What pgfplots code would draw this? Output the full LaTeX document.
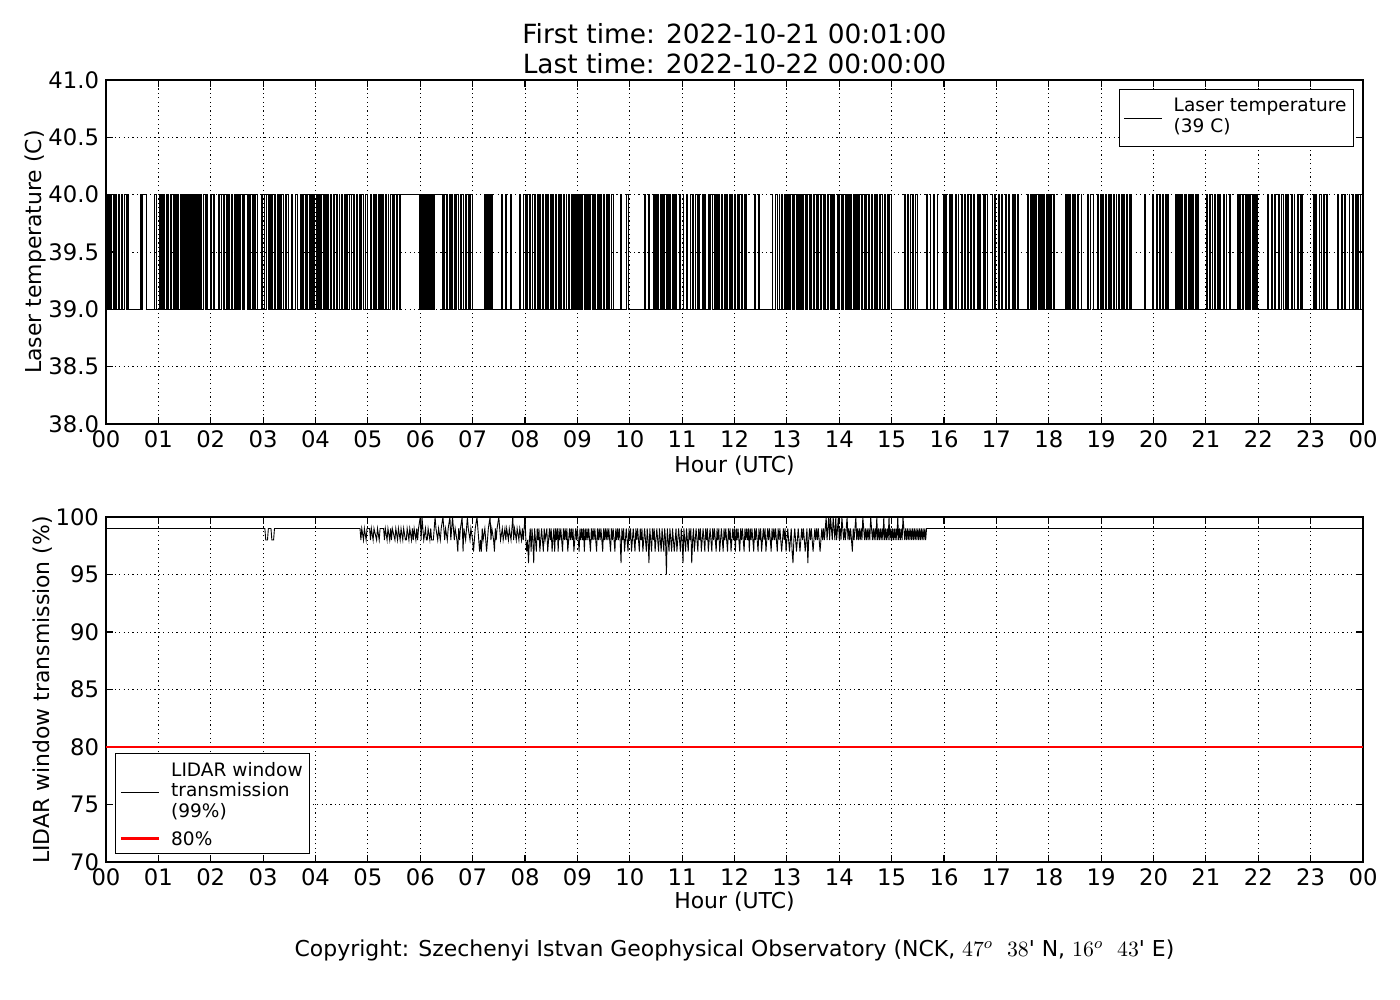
\documentclass[border=0pt]{standalone}
\usepackage{pgfplots}
\pgfplotsset{compat=1.18}
\usepackage{fontspec}
\setmainfont{DejaVu Sans}
\newfontfamily\plainfont{DejaVu Sans}
\begin{document}
\begin{tikzpicture}
\path[use as bounding box] (0bp,0bp) rectangle (700bp,500bp);
\pgfplotsset{
  every axis/.append style={
    scale only axis, width=628.5bp, anchor=south west,
    xmin=0, xmax=1440,
    xtick={0,60,120,180,240,300,360,420,480,540,600,660,720,780,840,900,960,1020,1080,1140,1200,1260,1320,1380,1440},
    xticklabels={00,01,02,03,04,05,06,07,08,09,10,11,12,13,14,15,16,17,18,19,20,21,22,23,00},
    tick align=inside, tick pos=both,
    major tick length=3.5bp,
    tick style={black, line width=0.6bp},
    grid=major,
    major grid style={black, line width=0.4bp, dash pattern=on 0.6bp off 1.6bp},
    axis line style={line width=0.8bp},
    ticklabel style={font=\fontsize{11.4}{13}\selectfont},
    /pgf/number format/assume math mode=true,
    legend cell align=left,
    legend style={draw=black, line width=0.6bp, font=\fontsize{9.3}{10.3}\selectfont,
      inner xsep=2bp, inner ysep=2.5bp, row sep=1bp,
      nodes={inner sep=1.5bp, text depth=},
      /tikz/every odd column/.append style={column sep=4bp}},
    legend image code/.code={\draw[#1] (0bp,0bp) -- (19bp,0bp);},
  }
}
% ---------------- top panel ----------------
\begin{axis}[at={(53bp,288bp)}, height=172bp,
  ymin=38, ymax=41, ytick={38,38.5,39,39.5,40,40.5,41},
  yticklabel style={/pgf/number format/.cd, fixed, fixed zerofill, precision=1},
  legend style={at={(1,1)}, anchor=north east, xshift=-4.5bp, yshift=-4.5bp}]
\addplot[const plot, black, line width=0.45bp] coordinates {
(1,39)(2,40)(3,39)(4,40)(5,39)(6,40)(8,39)(9,40)(10,39)(11,40)(12,39)(14,40)(15,39)
(18,40)(19,39)(21,40)(23,39)(25,40)(26,39)
(39,40)(41,39)(42,40)(46,39)
(55,40)(58,39)
(61,40)(62,39)(63,40)(65,39)(66,40)(67,39)(69,40)(70,39)(71,40)(72,39)(74,40)(75,39)(77,40)(78,39)(79,40)(81,39)(82,40)(83,39)(85,40)(86,39)
(88,40)(89,39)(90,40)(91,39)(92,40)(93,39)(95,40)(96,39)(97,40)(98,39)(99,40)(100,39)(101,40)(102,39)(104,40)(105,39)(106,40)(107,39)(108,40)(109,39)
(112,40)(114,39)(115,40)(116,39)
(120,40)(121,39)(123,40)(124,39)
(129,40)(130,39)(132,40)(134,39)(135,40)(136,39)(138,40)(139,39)(140,40)(141,39)
(144,40)(145,39)(147,40)(148,39)(150,40)(151,39)(152,40)(153,39)(154,40)(156,39)(157,40)(158,39)(159,40)(162,39)(163,40)(164,39)(165,40)(168,39)(169,40)(170,39)(171,40)(173,39)
(178,40)(179,39)(181,40)(182,39)(184,40)(186,39)(187,40)(188,39)(190,40)(191,39)(193,40)(194,39)(196,40)(197,39)(199,40)(200,39)(201,40)(203,39)(205,40)(206,39)
(207,40)(209,39)
(213,40)(214,39)(217,40)(219,39)
(223,40)(224,39)(225,40)(226,39)(228,40)(229,39)(230,40)(231,39)(233,40)(234,39)(235,40)(237,39)(238,40)(239,39)(241,40)(242,39)(243,40)(244,39)(246,40)(247,39)(249,40)(250,39)(251,40)(252,39)
(254,40)(255,39)(257,40)(258,39)(260,40)(262,39)(264,40)(265,39)(267,40)(268,39)(270,40)(271,39)(273,40)(274,39)(276,40)(277,39)(279,40)(281,39)
(284,40)(285,39)(287,40)(288,39)(290,40)(291,39)(293,40)(295,39)(297,40)(299,39)
(303,40)(304,39)(306,40)(307,39)(309,40)(310,39)(312,40)(313,39)(314,40)(315,39)
(317,40)(318,39)(320,40)(321,39)(323,40)(324,39)(326,40)(328,39)(329,40)(330,39)(331,40)(333,39)(334,40)(336,39)(337,40)(359,39)
(360,40)(361,39)(362,40)(363,39)(364,40)(365,39)(366,40)(367,39)(368,40)(369,39)(370,40)(371,39)(372,40)(373,39)(374,40)(375,39)(376,40)(385,39)
(387,40)(388,39)(390,40)(391,39)(393,40)(395,39)(396,40)(397,39)(399,40)(400,39)(402,40)(404,39)(406,40)(407,39)(409,40)(410,39)(412,40)(413,39)(415,40)(416,39)(418,40)(420,39)
(434,40)(435,39)(436,40)(437,39)(438,40)(439,39)(440,40)(441,39)(442,40)(443,39)
(453,40)(454,39)(458,40)(459,39)(463,40)(465,39)
(474,40)(475,39)(478,40)(480,39)
(482,40)(483,39)(485,40)(486,39)(488,40)(489,39)(491,40)(492,39)(494,40)(495,39)(497,40)(498,39)(500,40)(501,39)(503,40)(504,39)(506,40)(507,39)(509,40)(510,39)(512,40)(513,39)(515,40)(516,39)(518,40)(519,39)(521,40)(522,39)(524,40)(525,39)(527,40)(528,39)(530,40)(531,39)(533,40)(534,39)(536,40)(537,39)
(538,40)(539,39)(540,40)(541,39)(542,40)(543,39)(544,40)(545,39)(546,40)(548,39)(549,40)(550,39)(551,40)(552,39)(553,40)(554,39)(555,40)(557,39)(558,40)(559,39)(560,40)(561,39)(563,40)(564,39)(565,40)(566,39)(567,40)(568,39)
(570,40)(571,39)(573,40)(574,39)(576,40)(577,39)(579,40)(581,39)
(589,40)(591,39)(596,40)(598,39)
(617,40)(618,39)(621,40)(623,39)
(627,40)(628,39)(630,40)(631,39)(632,40)(633,39)(635,40)(636,39)(638,40)(639,39)(640,40)(642,39)(643,40)(644,39)(646,40)(647,39)(649,40)(650,39)(651,40)(652,39)(653,40)(654,39)
(657,40)(658,39)(661,40)(662,39)(665,40)(666,39)
(669,40)(670,39)(672,40)(673,39)(675,40)(677,39)(679,40)(680,39)(683,40)(684,39)(686,40)(687,39)(690,40)(691,39)(693,40)(695,39)(697,40)(698,39)(699,40)(700,39)
(702,40)(703,39)(705,40)(706,39)(708,40)(710,39)(711,40)(712,39)(714,40)(715,39)(717,40)(718,39)(720,40)(721,39)(723,40)(724,39)(725,40)(726,39)
(728,40)(729,39)(731,40)(732,39)(733,40)(734,39)
(743,40)(744,39)(747,40)(749,39)
(763,40)(764,39)(767,40)(769,39)
(771,40)(772,39)(774,40)(775,39)(777,40)(778,39)(780,40)(781,39)
(782,40)(783,39)(784,40)(786,39)(787,40)(788,39)(789,40)(791,39)(792,40)(793,39)(794,40)(796,39)(797,40)(798,39)(799,40)(801,39)(802,40)(803,39)(804,40)(806,39)(807,40)(808,39)(810,40)(811,39)(812,40)(814,39)(815,40)(816,39)(818,40)(819,39)(820,40)(822,39)(823,40)(824,39)(826,40)(827,39)(828,40)(830,39)(831,40)(832,39)(833,40)(835,39)
(838,40)(839,39)(840,40)(842,39)(843,40)(844,39)(845,40)(847,39)(848,40)(849,39)(850,40)(852,39)(853,40)(854,39)(856,40)(857,39)(858,40)(860,39)(861,40)(862,39)(863,40)(865,39)(866,40)(867,39)(869,40)(870,39)(871,40)(873,39)(874,40)(875,39)(877,40)(878,39)(880,40)(881,39)(883,40)(884,39)(886,40)(887,39)(889,40)(890,39)(892,40)(893,39)(895,40)(896,39)(898,40)(900,39)
(915,40)(916,39)(918,40)(919,39)(921,40)(922,39)(924,40)(925,39)(927,40)(929,39)
(940,40)(941,39)(944,40)(945,39)(948,40)(949,39)(952,40)(953,39)
(959,40)(960,39)(962,40)(963,39)(966,40)(967,39)(969,40)(970,39)(973,40)(974,39)(976,40)(977,39)(980,40)(981,39)(983,40)(984,39)(987,40)(988,39)(990,40)(991,39)(994,40)(995,39)(998,40)(999,39)(1001,40)(1002,39)(1005,40)(1006,39)(1008,40)(1010,39)
(1015,40)(1016,39)(1018,40)(1019,39)(1022,40)(1023,39)(1026,40)(1027,39)(1030,40)(1031,39)(1034,40)(1035,39)(1038,40)(1039,39)(1041,40)(1042,39)(1044,40)(1045,39)
(1056,40)(1057,39)(1059,40)(1060,39)(1061,40)(1062,39)(1064,40)(1065,39)(1066,40)(1068,39)(1069,40)(1070,39)(1072,40)(1073,39)(1074,40)(1075,39)(1077,40)(1078,39)(1080,40)(1081,39)(1082,40)(1083,39)(1085,40)(1087,39)
(1099,40)(1100,39)(1101,40)(1102,39)(1104,40)(1105,39)(1107,40)(1108,39)(1109,40)(1110,39)
(1113,40)(1114,39)(1117,40)(1118,39)
(1124,40)(1125,39)(1128,40)(1131,39)
(1136,40)(1137,39)(1139,40)(1140,39)(1142,40)(1143,39)(1145,40)(1146,39)(1148,40)(1149,39)(1151,40)(1152,39)(1154,40)(1155,39)(1157,40)(1158,39)
(1160,40)(1161,39)(1163,40)(1164,39)(1166,40)(1167,39)(1169,40)(1170,39)(1172,40)(1173,39)(1174,40)(1175,39)
(1190,40)(1191,39)
(1199,40)(1200,39)(1203,40)(1204,39)(1207,40)(1208,39)(1210,40)(1211,39)(1214,40)(1215,39)(1216,40)(1217,39)
(1225,40)(1226,39)(1227,40)(1228,39)(1230,40)(1231,39)(1232,40)(1233,39)(1235,40)(1236,39)(1237,40)(1238,39)(1240,40)(1241,39)(1242,40)(1243,39)(1245,40)(1246,39)(1248,40)(1249,39)(1250,40)(1251,39)
(1261,40)(1262,39)(1264,40)(1265,39)(1267,40)(1268,39)(1270,40)(1271,39)(1273,40)(1274,39)(1276,40)(1277,39)(1280,40)(1281,39)(1283,40)(1284,39)(1287,40)(1288,39)
(1296,40)(1297,39)(1298,40)(1299,39)(1300,40)(1302,39)(1303,40)(1305,39)(1306,40)(1308,39)(1309,40)(1310,39)(1311,40)(1313,39)(1314,40)(1315,39)(1316,40)(1317,39)(1318,40)(1319,39)
(1331,40)(1332,39)(1335,40)(1336,39)(1339,40)(1340,39)(1343,40)(1344,39)(1347,40)(1349,39)
(1351,40)(1352,39)(1354,40)(1355,39)(1358,40)(1359,39)(1361,40)(1362,39)(1365,40)(1366,39)(1368,40)(1369,39)(1370,40)(1371,39)
(1383,40)(1384,39)(1386,40)(1387,39)(1390,40)(1392,39)(1395,40)(1396,39)(1398,40)(1399,39)
(1411,40)(1412,39)(1415,40)(1416,39)(1419,40)(1420,39)(1424,40)(1425,39)(1428,40)(1429,39)(1431,40)(1432,39)(1434,40)(1435,39)(1437,40)(1439,39)(1440,39)
};
\addlegendentry{\begin{tabular}[c]{@{}l@{}}Laser temperature\\(39 C)\end{tabular}}
\end{axis}
% ---------------- bottom panel ----------------
\begin{axis}[at={(53bp,69bp)}, height=172.5bp,
  ymin=70, ymax=100, ytick={70,75,80,85,90,95,100},
  legend style={at={(0,0)}, anchor=south west, xshift=4.5bp, yshift=4bp}]
\addplot[black, line width=0.45bp] coordinates {
(0,99)(182,99)(183,98)(185,98)(186,99)(189,99)(190,98)(192,98)(193,99)(291,99)
(292,98)(293,99)(295,98)(296,99)(298,98)(299,99)(302,99)(303,98)(304,99)(306,98)(307,99)(310,98)(311,99)(313,98)(314,99)(318,99)(319,98)(320,99)(322,98)(323,99)(325,98)(326,99)(327,98)(328,99)(331,98)(332,99)(334,98)(335,99)(337,98)(338,99)(340,98)(341,99)(343,98)(344,98)(345,99)(347,98)(348,99)(350,98)(351,99)(352,98)(353,99)(355,98)(356,99)(357,98)(358,99)(360,100)(361,98)(362,100)(363,99)(364,98)
(366,99)(367,98)(368,98)(369,99)(371,98)(372,99)(373,98)(375,98)(376,99)(377,100)(378,99)(380,98)(381,99)(383,98)(384,99)(386,100)(387,99)(388,98)(389,99)(391,98)(392,99)(394,100)(395,98)(396,99)(397,100)(398,99)(399,98)(400,99)(402,98)(403,97)(404,99)(405,98)(406,99)(408,100)(409,97)(410,99)
(412,98)(413,99)(414,100)(415,99)(417,98)(418,99)(420,98)(421,97)(422,98)(423,99)(425,100)(426,99)(427,98)(428,97)(429,98)(430,97)(431,99)(432,98)(434,99)(435,98)(436,97)(437,98)(438,99)(440,100)(441,98)(442,99)(444,98)(445,97)(446,99)(447,98)(448,99)(450,100)(451,99)(452,98)(454,99)(455,98)(457,99)(458,98)(459,99)(461,98)(462,99)(464,98)(465,99)(466,100)(467,98)(468,99)(470,98)(471,99)(473,98)(474,99)(476,98)(477,99)(478,98)(480,100)(481,98)(482,97)
(483,98)(484,96)(485,98)(486,99)(487,97)(488,99)(489,98)(490,96)(491,99)(492,98)(493,97)(494,99)(495,98)(496,99)(497,97)(498,98)(499,99)(500,98)(501,97)(502,99)(503,98)(505,99)(506,97)(507,98)(508,99)(509,98)(510,99)(511,97)(512,98)(513,99)(514,97)(515,99)(516,98)(517,99)(518,97)(519,99)(520,98)(521,99)(522,98)(523,97)(524,99)(525,98)(526,99)(527,98)(528,99)(529,97)(530,98)(531,99)(532,98)(533,99)(534,98)(535,99)(536,97)(537,98)(538,99)(539,98)(540,99)(541,98)(542,97)(543,99)(544,98)(545,99)(546,98)(547,99)(548,97)(549,99)(550,98)(551,99)(552,98)(553,99)(554,98)(555,97)(556,99)(557,98)(558,99)(559,98)(560,99)(561,98)(562,97)(563,99)(564,98)(565,99)(566,98)(567,99)(568,98)(569,97)(570,99)(571,98)(572,99)(573,98)(574,99)(575,98)(576,99)(577,98)(578,97)(579,99)(580,98)(581,99)(582,98)(583,97)(584,99)(585,98)(586,99)(587,98)(588,99)(589,98)(590,96)(591,99)(592,98)(593,99)(594,97)(595,98)(596,99)(597,98)(598,97)(599,99)(600,98)(601,99)(602,97)(603,98)(604,99)(605,98)(606,97)(607,99)(608,98)(609,99)(610,98)(611,97)(612,99)(613,98)(614,99)(615,97)(616,98)(617,99)(618,98)(619,97)(620,99)(621,98)(622,96)(623,99)(624,98)(625,97)(626,99)(627,98)(628,99)(629,97)(630,98)(631,99)(632,98)(633,97)(634,99)(635,98)(636,97)(637,99)(638,98)(639,97)(640,99)(641,98)(642,95)(643,99)(644,98)(645,97)(646,99)(647,98)(648,97)(649,99)(650,98)(651,97)(652,98)(653,99)(654,97)(655,98)(656,99)(657,98)(658,97)(659,99)(660,98)(661,96)(662,99)(663,98)(664,97)(665,99)(666,98)(667,97)(668,99)(669,98)(670,99)(671,96)(672,98)(673,99)(674,97)(675,98)(676,99)(677,98)(678,97)(679,99)(680,98)
(681,99)(682,97)(683,98)(684,99)(685,98)(686,97)(687,99)(688,98)(689,99)(690,97)(691,98)(692,99)(693,98)(694,97)(695,99)(696,98)(697,99)(698,98)(699,97)(700,99)(701,98)(702,99)(703,97)(704,98)(705,99)(706,98)(707,97)(708,99)(709,98)(710,99)(711,98)(712,97)(713,99)(714,98)(715,99)(716,97)(717,98)(718,99)(719,98)(720,99)(721,97)(722,99)(723,98)(724,99)(725,98)(726,97)(727,99)(728,98)(729,99)(730,98)(731,97)(732,99)(733,98)(734,99)(735,98)(736,99)(737,97)(738,99)(739,98)(740,99)(741,98)(742,97)(743,99)(744,98)(745,99)(746,98)(747,97)(748,99)(749,98)(750,99)(751,97)(752,98)(753,99)(754,98)(755,99)(756,97)(757,98)(758,99)(759,98)(760,99)(761,98)(762,97)(763,99)(764,98)(765,99)(766,98)(767,99)(768,98)(769,97)(770,99)(771,98)(772,99)(773,98)(774,97)(775,98)(776,99)(777,98)(778,99)(779,97)(780,98)(781,99)(782,98)(783,97)(784,98)(785,99)(786,97)(787,96)(788,98)(789,99)(790,98)(791,97)(792,98)(793,99)(794,98)(795,97)(796,98)(797,99)(798,98)(799,99)(800,98)(801,97)(802,98)(803,99)(804,96)(805,98)(806,99)(807,98)(808,99)(809,98)(810,97)(811,98)(812,99)(813,98)(814,99)(815,98)(816,99)(817,98)(818,97)(819,98)(820,99)(821,98)(822,99)(823,98)(824,99)(825,100)(826,98)
(827,99)(828,100)(829,98)(830,100)(831,99)(832,98)(833,100)(834,99)(835,98)(836,100)(837,98)(838,99)(839,100)(840,98)(841,99)(842,98)(843,100)(844,99)(845,98)(846,99)(847,98)(848,99)(849,100)(850,98)(851,99)(852,98)(853,99)(854,98)(855,97)(856,99)(857,98)(858,99)(859,100)(860,98)(861,99)(862,98)(863,99)(864,98)(865,99)(866,98)(867,100)(868,99)(869,98)(870,99)(871,98)(872,99)(873,98)(874,99)(875,98)(876,100)(877,99)(878,98)(879,99)(880,98)(881,99)(882,98)(883,100)(884,98)(885,99)(886,98)(887,99)(888,98)(889,99)(890,98)(891,100)(892,98)(893,99)(894,98)(895,99)(896,98)(897,100)(898,98)(899,99)(900,98)(901,99)(902,98)(903,99)(904,98)(905,99)(906,98)(907,100)(908,98)(909,99)(910,98)(911,99)(912,98)(913,100)(914,99)(915,98)(916,99)(917,98)(918,99)(919,98)(920,99)(921,98)(922,99)(923,98)(924,99)(925,98)(926,99)(927,98)(928,99)(929,98)(930,99)(931,98)(932,99)(933,98)(934,99)(935,98)(936,99)(937,98)(938,99)(939,98)(940,99)(1440,99)
};
\addlegendentry{\begin{tabular}[c]{@{}l@{}}LIDAR window\\transmission\\(99\%)\end{tabular}}
\addplot[red, line width=1.3bp] coordinates {(0,80)(1440,80)};
\addlegendentry{80\%}
\end{axis}
% ---------------- texts ----------------
\node[font=\fontsize{13.25}{15}\selectfont] at (367.25bp,483bp) {First time: 2022-10-21 00:01:00};
\node[font=\fontsize{13.25}{15}\selectfont] at (367.25bp,468bp) {Last time: 2022-10-22 00:00:00};
\node[font=\fontsize{11}{13}\selectfont, rotate=90] at (17.5bp,374bp) {Laser temperature (C)};
\node[font=\fontsize{11}{13}\selectfont, rotate=90] at (21.5bp,155bp) {LIDAR window transmission (\%)};
\node[font=\fontsize{11}{13}\selectfont] at (367.25bp,267bp) {Hour (UTC)};
\node[font=\fontsize{11}{13}\selectfont] at (367.25bp,49bp) {Hour (UTC)};
\node[font=\fontsize{11}{13}\selectfont] at (367.25bp,25bp) {Copyright: Szechenyi Istvan Geophysical Observatory (NCK, $47^o$\ \ $38${\plainfont '} N, $16^o$\ \ $43${\plainfont '} E)};
\end{tikzpicture}
\end{document}
